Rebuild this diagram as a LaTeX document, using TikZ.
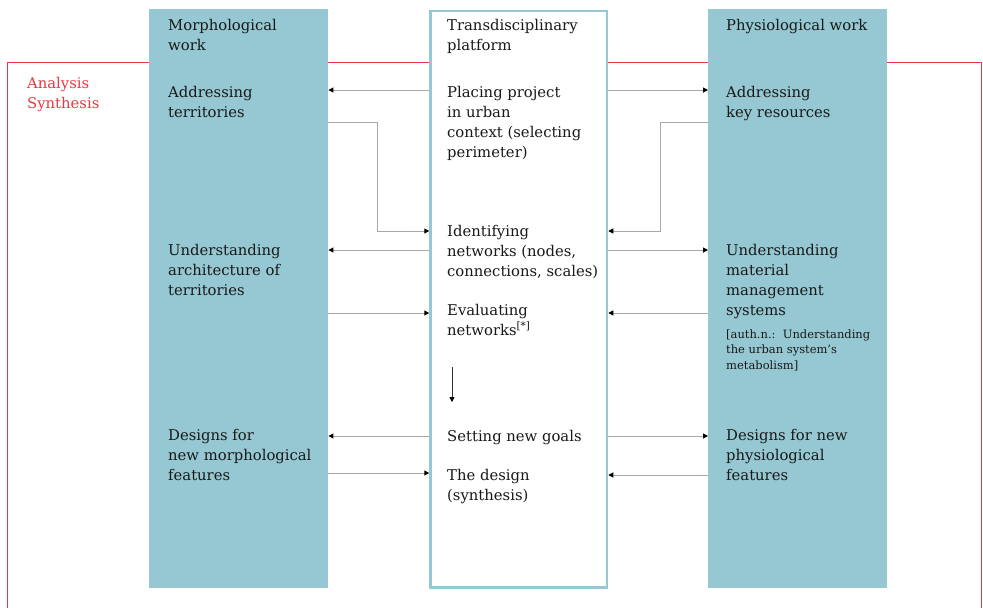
\documentclass[tikz,border=0pt]{standalone}
\usepackage{fontspec}
\setmainfont{DejaVu Serif}
\usetikzlibrary{arrows.meta}
\definecolor{tealbox}{RGB}{149,200,210}
\definecolor{redl}{RGB}{235,55,65}
\definecolor{grayl}{RGB}{168,168,168}
\definecolor{txt}{RGB}{25,25,25}
\begin{document}
\begin{tikzpicture}[x=1pt,y=-1pt,
  col/.style={fill=tealbox, draw=none, minimum width=179pt, minimum height=579pt, anchor=north west, inner sep=0pt},
  lbl/.style={anchor=north west, inner sep=0pt, align=left, font=\fontsize{14.8}{20}\selectfont, text=txt},
  note/.style={anchor=north west, inner sep=0pt, align=left, font=\fontsize{11.5}{15.5}\selectfont, text=txt},
  conn/.style={draw=grayl, line width=1pt, -{Triangle[length=5pt,width=5pt,color=black]}},
  downarr/.style={draw=black!80, line width=0.8pt, -{Triangle[length=5pt,width=5pt,color=black]}}]
\useasboundingbox (0,0) rectangle (983,608);
% red frame
\draw[redl, line width=1pt] (7,612) -- (7,62) -- (981,62) -- (981,612);
\node[lbl, text=redl] (an) at (27,74) {\strut Analysis\\Synthesis};
% columns
\node[col] (L) at (149,9) {};
\node[col, fill=white, draw=tealbox, line width=2.5pt, minimum width=176.5pt, minimum height=576.5pt] (C) at (429.25,9.75) {};
\node[col] (R) at (708,9) {};
% left texts
\node[lbl] (l1) at (168,16) {\strut Morphological\\work};
\node[lbl] (l2) at (168,83) {\strut Addressing\\territories};
\node[lbl] (l3) at (168,241) {\strut Understanding\\architecture of\\territories};
\node[lbl] (l4) at (168,426) {\strut Designs for\\new morphological\\features};
% center texts
\node[lbl] (c1) at (447,16) {\strut Transdisciplinary\\platform};
\node[lbl] (c2) at (447,83) {\strut Placing project\\in urban\\context (selecting\\perimeter)};
\node[lbl] (c3) at (447,222) {\strut Identifying\\networks (nodes,\\connections, scales)};
\node[lbl] (c4) at (447,301) {\strut Evaluating\\networks\textsuperscript{[*]}};
\node[lbl] (c5) at (447,427) {\strut Setting new goals};
\node[lbl] (c6) at (447,466) {\strut The design\\(synthesis)};
% right texts
\node[lbl] (r1) at (726,16) {\strut Physiological work};
\node[lbl] (r2) at (726,83) {\strut Addressing\\key resources};
\node[lbl] (r3) at (726,241) {\strut Understanding\\material\\management\\systems};
\node[note] (r3n) at (726,327) {\strut [auth.n.:\ \ Understanding\\the urban system’s\\metabolism]};
\node[lbl] (r4) at (726,426) {\strut Designs for new\\physiological\\features};
% connector heights
\coordinate (y1) at (0,90);
\coordinate (y2) at (0,122);
\coordinate (y3) at (0,231);
\coordinate (y4) at (0,250);
\coordinate (y5) at (0,313);
\coordinate (y6) at (0,436);
\coordinate (y7) at (0,473);
\coordinate (y8) at (0,475);
\coordinate (kl) at (377,122);
\coordinate (kr) at (660,122);
\coordinate (d1) at (452,367);
\coordinate (d2) at (452,402);
% connectors
\draw[conn] (C.west |- y1) -- (L.east |- y1);
\draw[conn] (C.east |- y1) -- (R.west |- y1);
\draw[conn] (L.east |- y2) -- (kl) |- (C.west |- y3);
\draw[conn] (R.west |- y2) -- (kr) |- (C.east |- y3);
\draw[conn] (C.west |- y4) -- (L.east |- y4);
\draw[conn] (C.east |- y4) -- (R.west |- y4);
\draw[conn] (L.east |- y5) -- (C.west |- y5);
\draw[conn] (R.west |- y5) -- (C.east |- y5);
\draw[downarr] (d1) -- (d2);
\draw[conn] (C.west |- y6) -- (L.east |- y6);
\draw[conn] (C.east |- y6) -- (R.west |- y6);
\draw[conn] (L.east |- y7) -- (C.west |- y7);
\draw[conn] (R.west |- y8) -- (C.east |- y8);
\end{tikzpicture}
\end{document}
